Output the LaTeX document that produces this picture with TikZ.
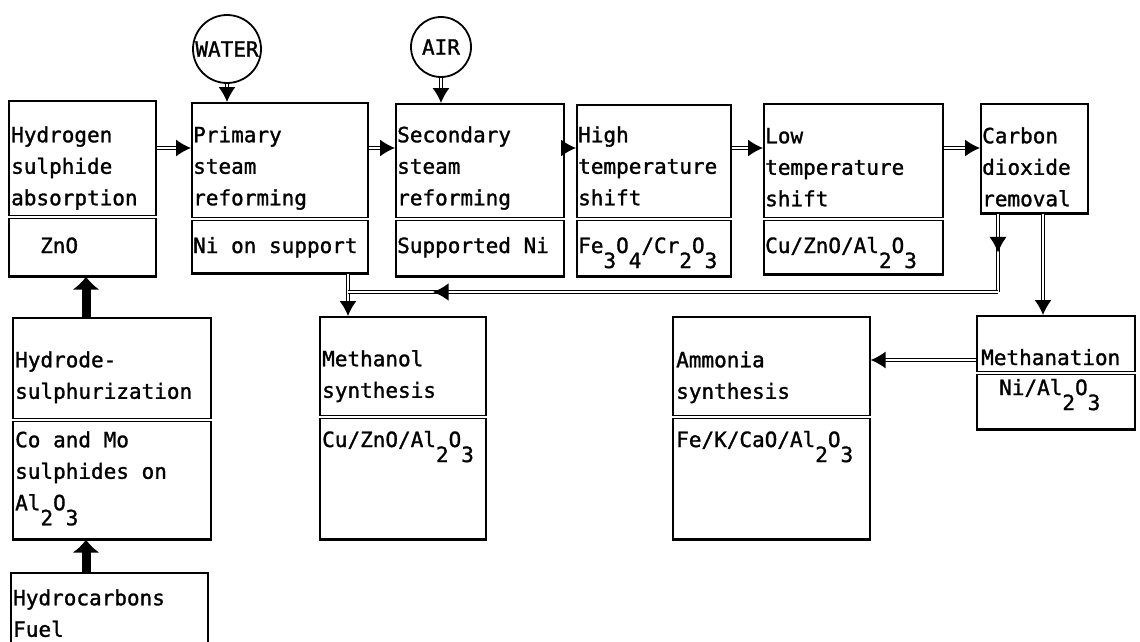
\documentclass[tikz,border=0pt]{standalone}
\usepackage{fontspec}
\newfontfamily\plotfont[FakeBold=1.3]{DejaVu Sans Mono}
\usetikzlibrary{arrows.meta,decorations.markings}
\newcommand\lsub[1]{\raisebox{-15pt}{#1}}
\begin{document}
\begin{tikzpicture}[x=1pt,y=-1pt,
  box/.style={draw, line width=1.6pt, inner sep=0pt, anchor=north west},
  lbl/.style={inner sep=0pt, anchor=north west, align=left, font=\plotfont\fontsize{21}{31.5}\selectfont},
  cat/.style={inner sep=0pt, anchor=base west, font=\plotfont\fontsize{21}{31.5}\selectfont},
  feed/.style={draw, circle, line width=1.8pt, inner sep=0pt, font=\plotfont\fontsize{21}{31.5}\selectfont},
  flow/.style={double, double distance=1.5pt, line width=1.3pt, -{Latex[length=15pt,width=17pt]}},
  flowline/.style={double, double distance=1.5pt, line width=1.3pt},
  heavy/.style={line width=9pt, -{Latex[length=13pt,width=28pt]}},
  divider/.style={double, double distance=1.2pt, line width=1pt},
  botline/.style={line width=2.8pt},
  midarrow/.style={postaction={decorate}, decoration={markings, mark=at position #1 with {\arrow{Latex[length=16pt,width=18pt]}}}}
]
\clip (0,0) rectangle (1140,641);
\useasboundingbox (0,0) rectangle (1140,641);

% feeds
\node[feed, minimum size=68pt] (water) at (227,49) {WATER};
\node[feed, minimum size=60pt] (air) at (441,47) {AIR};

% top row boxes
\node[box, minimum width=147pt, minimum height=175pt] (b1) at (8,100) {};
\node[box, minimum width=176pt, minimum height=170pt] (b2) at (191,102) {};
\node[box, minimum width=168pt, minimum height=172pt] (b3) at (395,103) {};
\node[box, minimum width=154pt, minimum height=171pt] (b4) at (576,104) {};
\node[box, minimum width=179pt, minimum height=170pt] (b5) at (763,103) {};
\node[box, minimum width=107pt, minimum height=109pt] (b6) at (980,103) {};

% lower boxes
\node[box, minimum width=198pt, minimum height=221pt] (hds) at (12,317) {};
\node[box, minimum width=197pt, minimum height=80pt] (hc) at (10,572) {};
\node[box, minimum width=166pt, minimum height=222pt] (mol) at (319,316) {};
\node[box, minimum width=197pt, minimum height=222pt] (amm) at (672,316) {};
\node[box, minimum width=158pt, minimum height=113pt] (meth) at (976,315) {};

% divider levels
\coordinate (d1) at (0,217);
\coordinate (d2) at (0,219);
\coordinate (d3) at (0,373);
\coordinate (d4) at (0,420);
\coordinate (d5) at (0,417);

% dividers
\draw[divider] (b1.west |- d1) -- (b1.east |- d1);
\draw[divider] (b2.west |- d2) -- (b2.east |- d2);
\draw[divider] (b3.west |- d2) -- (b3.east |- d2);
\draw[divider] (b4.west |- d2) -- (b4.east |- d2);
\draw[divider] (b5.west |- d2) -- (b5.east |- d2);
\draw[divider] (hds.west |- d4) -- (hds.east |- d4);
\draw[divider] (mol.west |- d5) -- (mol.east |- d5);
\draw[divider] (amm.west |- d5) -- (amm.east |- d5);
\draw[divider] (meth.west |- d3) -- (meth.east |- d3);

% heavier bottoms
\foreach \n in {b1,b2,b3,b4,b5,b6,hds,mol,amm,meth}
  \draw[botline] (\n.south west) -- (\n.south east);

% texts
\node[lbl] (t1) at (11,120) {\strut Hydrogen\\sulphide\\absorption};
\node[cat] (k1) at (40,253) {ZnO};
\node[lbl] (t2) at (193,120) {\strut Primary\\steam\\reforming};
\node[cat] (k2) at (193,253) {Ni on support};
\node[lbl] (t3) at (397,120) {\strut Secondary\\steam\\reforming};
\node[cat] (k3) at (397,253) {Supported Ni};
\node[lbl] (t4) at (578,120) {\strut High\\temperature\\shift};
\node[cat] (k4) at (578,253) {Fe\lsub3O\lsub4/Cr\lsub2O\lsub3};
\node[lbl] (t5) at (765,121) {\strut Low\\temperature\\shift};
\node[cat] (k5) at (765,253) {Cu/ZnO/Al\lsub2O\lsub3};
\node[lbl] (t6) at (982,121) {\strut Carbon\\dioxide\\removal};
\node[cat] (t7) at (981,365) {Methanation};
\node[cat] (k7) at (999,395) {Ni/Al\lsub2O\lsub3};
\node[lbl] (t8) at (676,345) {\strut Ammonia\\synthesis};
\node[cat] (k8) at (676,447) {Fe/K/CaO/Al\lsub2O\lsub3};
\node[lbl] (t9) at (322,344) {\strut Methanol\\synthesis};
\node[cat] (k9) at (322,447) {Cu/ZnO/Al\lsub2O\lsub3};
\node[lbl] (t10) at (15,345) {\strut Hydrode-\\sulphurization};
\node[lbl] (k10) at (15,425) {\strut Co and Mo\\sulphides on\\Al\lsub2O\lsub3};
\node[lbl] (t11) at (13,583) {\strut Hydrocarbons\\Fuel};

% reference levels
\coordinate (r1) at (0,148);
\coordinate (r2) at (0,292);
\coordinate (r3) at (0,360);
\coordinate (c1) at (348,0);
\coordinate (c2) at (998,0);
\coordinate (c3) at (1043,0);
\coordinate (c4) at (86,0);

% connectors
\draw[flow] (b1.east |- r1) -- (b2.west |- r1);
\draw[flow] (b2.east |- r1) -- (b3.west |- r1);
\draw[flow] (b3.east |- r1) -- (b4.west |- r1);
\draw[flow] (b4.east |- r1) -- (b5.west |- r1);
\draw[flow] (b5.east |- r1) -- (b6.west |- r1);
\draw[flow] (water.south) -- (water.south |- b2.north);
\draw[flow] (air.south) -- (air.south |- b3.north);
\draw[flow] (b2.south -| c1) -- (mol.north -| c1);
\draw[flowline, midarrow=0.5] (b6.south -| c2) -- (c2 |- r2);
\draw[flowline, midarrow=0.87] (c2 |- r2) -- (c1 |- r2);
\draw[flow] (b6.south -| c3) -- (meth.north -| c3);
\draw[flow] (meth.west |- r3) -- (amm.east |- r3);
\draw[heavy] (hc.north -| c4) -- (hds.south -| c4);
\draw[heavy] (hds.north -| c4) -- (b1.south -| c4);
\end{tikzpicture}
\end{document}
